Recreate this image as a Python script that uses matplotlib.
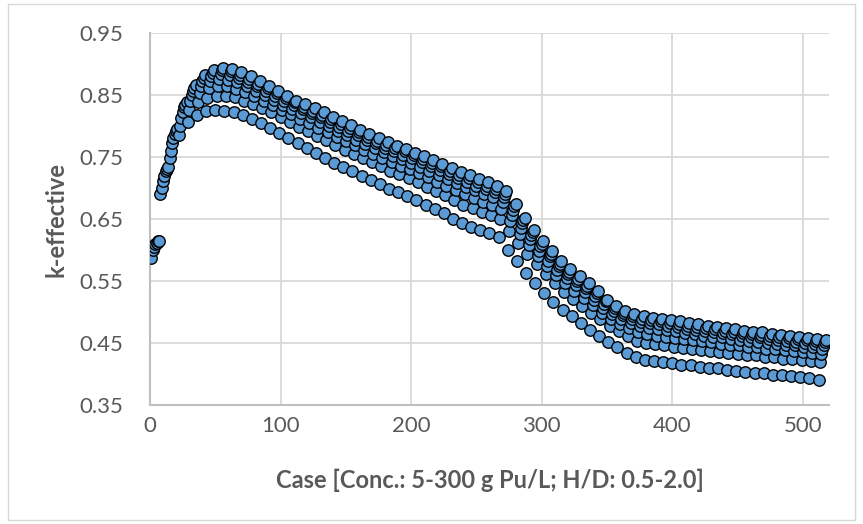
"""
k-effective vs case number scatter (Pu solution, conc. 5-300 g/L, H/D 0.5-2.0)
"""
import matplotlib
matplotlib.use('Agg')
import matplotlib.pyplot as plt
from matplotlib.patches import Rectangle

# 7 H/D values per concentration step, 74 concentration steps -> 518 cases
# each list = one H/D position inside a concentration group
band_1 = [0.587, 0.690, 0.748, 0.786, 0.806, 0.818, 0.824, 0.826, 0.825, 0.822,
          0.817, 0.811, 0.805, 0.797, 0.789, 0.781, 0.773, 0.765, 0.757, 0.749,
          0.741, 0.734, 0.727, 0.720, 0.713, 0.706, 0.699, 0.693, 0.687, 0.680,
          0.673, 0.666, 0.659, 0.650, 0.643, 0.637, 0.632, 0.627, 0.621, 0.600,
          0.582, 0.563, 0.547, 0.531, 0.516, 0.503, 0.493, 0.482, 0.471, 0.461,
          0.452, 0.443, 0.434, 0.427, 0.423, 0.421, 0.419, 0.417, 0.415, 0.414,
          0.412, 0.410, 0.409, 0.407, 0.405, 0.404, 0.402, 0.401, 0.399, 0.398,
          0.396, 0.395, 0.393, 0.391]

band_2 = [0.600, 0.700, 0.760, 0.800, 0.826, 0.838, 0.845, 0.849, 0.849, 0.846,
          0.841, 0.835, 0.829, 0.822, 0.814, 0.807, 0.799, 0.792, 0.784, 0.777,
          0.769, 0.762, 0.755, 0.748, 0.742, 0.735, 0.728, 0.722, 0.716, 0.709,
          0.702, 0.695, 0.688, 0.680, 0.673, 0.667, 0.662, 0.657, 0.650, 0.630,
          0.612, 0.594, 0.577, 0.561, 0.546, 0.533, 0.521, 0.510, 0.499, 0.488,
          0.478, 0.469, 0.461, 0.454, 0.450, 0.448, 0.446, 0.444, 0.442, 0.441,
          0.439, 0.437, 0.436, 0.434, 0.433, 0.431, 0.430, 0.428, 0.427, 0.425,
          0.424, 0.423, 0.421, 0.420]

band_3 = [0.605, 0.712, 0.772, 0.813, 0.840, 0.853, 0.861, 0.865, 0.864, 0.860,
          0.855, 0.848, 0.841, 0.834, 0.826, 0.819, 0.812, 0.805, 0.797, 0.790,
          0.783, 0.776, 0.769, 0.762, 0.755, 0.749, 0.742, 0.736, 0.730, 0.724,
          0.717, 0.710, 0.703, 0.696, 0.690, 0.684, 0.678, 0.673, 0.666, 0.646,
          0.626, 0.608, 0.590, 0.574, 0.559, 0.546, 0.534, 0.523, 0.511, 0.499,
          0.489, 0.481, 0.474, 0.468, 0.464, 0.462, 0.460, 0.458, 0.456, 0.455,
          0.453, 0.451, 0.449, 0.447, 0.446, 0.444, 0.443, 0.441, 0.440, 0.438,
          0.437, 0.435, 0.434, 0.432]

band_4 = [0.609, 0.720, 0.781, 0.823, 0.850, 0.864, 0.873, 0.876, 0.875, 0.871,
          0.864, 0.857, 0.850, 0.842, 0.834, 0.827, 0.821, 0.814, 0.807, 0.800,
          0.792, 0.785, 0.778, 0.771, 0.765, 0.758, 0.752, 0.747, 0.741, 0.734,
          0.728, 0.721, 0.714, 0.708, 0.702, 0.696, 0.690, 0.685, 0.677, 0.657,
          0.636, 0.617, 0.599, 0.583, 0.568, 0.555, 0.543, 0.532, 0.520, 0.507,
          0.497, 0.489, 0.483, 0.477, 0.475, 0.473, 0.471, 0.469, 0.466, 0.464,
          0.462, 0.460, 0.459, 0.457, 0.455, 0.453, 0.452, 0.450, 0.449, 0.447,
          0.446, 0.444, 0.443, 0.441]

band_5 = [0.612, 0.727, 0.787, 0.830, 0.857, 0.872, 0.881, 0.884, 0.883, 0.878,
          0.871, 0.864, 0.856, 0.849, 0.841, 0.834, 0.827, 0.821, 0.814, 0.807,
          0.799, 0.792, 0.785, 0.778, 0.772, 0.765, 0.759, 0.754, 0.748, 0.742,
          0.736, 0.729, 0.722, 0.716, 0.710, 0.704, 0.699, 0.693, 0.685, 0.665,
          0.643, 0.624, 0.606, 0.590, 0.574, 0.561, 0.550, 0.538, 0.526, 0.513,
          0.502, 0.495, 0.489, 0.484, 0.482, 0.480, 0.478, 0.476, 0.473, 0.471,
          0.469, 0.467, 0.466, 0.464, 0.462, 0.460, 0.459, 0.457, 0.455, 0.454,
          0.452, 0.450, 0.449, 0.447]

band_6 = [0.614, 0.731, 0.792, 0.834, 0.862, 0.878, 0.886, 0.890, 0.888, 0.883,
          0.876, 0.868, 0.861, 0.853, 0.845, 0.838, 0.831, 0.825, 0.818, 0.811,
          0.804, 0.797, 0.790, 0.783, 0.776, 0.770, 0.764, 0.759, 0.753, 0.747,
          0.741, 0.735, 0.728, 0.721, 0.716, 0.710, 0.704, 0.698, 0.691, 0.671,
          0.648, 0.629, 0.610, 0.594, 0.578, 0.565, 0.554, 0.542, 0.531, 0.517,
          0.506, 0.499, 0.493, 0.489, 0.487, 0.485, 0.483, 0.481, 0.478, 0.476,
          0.474, 0.472, 0.470, 0.468, 0.466, 0.464, 0.463, 0.461, 0.459, 0.458,
          0.456, 0.455, 0.453, 0.452]

band_7 = [0.615, 0.734, 0.795, 0.838, 0.866, 0.882, 0.891, 0.894, 0.892, 0.887,
          0.880, 0.872, 0.864, 0.856, 0.848, 0.841, 0.835, 0.829, 0.822, 0.815,
          0.808, 0.801, 0.794, 0.787, 0.780, 0.774, 0.768, 0.763, 0.757, 0.751,
          0.745, 0.739, 0.732, 0.726, 0.721, 0.715, 0.709, 0.703, 0.695, 0.675,
          0.652, 0.633, 0.614, 0.598, 0.582, 0.569, 0.558, 0.546, 0.534, 0.520,
          0.509, 0.502, 0.497, 0.493, 0.491, 0.489, 0.487, 0.485, 0.482, 0.480,
          0.478, 0.476, 0.474, 0.472, 0.470, 0.468, 0.467, 0.465, 0.463, 0.462,
          0.460, 0.458, 0.457, 0.455]

x_ticks = [0, 100, 200, 300, 400, 500]
y_ticks = [0.35, 0.45, 0.55, 0.65, 0.75, 0.85, 0.95]

plt.rcParams['font.family'] = ['Lato', 'DejaVu Sans']


def build_series():
    """按 case 顺序展开: 每个浓度 7 个 H/D"""
    bands = [band_1, band_2, band_3, band_4, band_5, band_6, band_7]
    cases, keff = [], []
    for g in range(len(band_1)):
        for h, band in enumerate(bands):
            cases.append(g * len(bands) + h + 1)
            keff.append(band[g])
    return cases, keff


def main():
    cases, keff = build_series()

    fig = plt.figure(figsize=(8.63, 5.24), dpi=100)
    ax = fig.add_axes([0.1738, 0.2271, 0.7868, 0.7099])

    # 外框
    fig.patches.append(Rectangle((0.009, 0.008), 0.982, 0.985, transform=fig.transFigure,
                                 fill=False, edgecolor='#d9d9d9', linewidth=1.0))

    ax.scatter(cases, keff, s=68, color='#5B9BD5', edgecolors='black',
               linewidths=1.0, zorder=3)

    ax.set_xlim(0, 520)
    ax.set_ylim(0.35, 0.95)
    ax.set_xticks(x_ticks)
    ax.set_yticks(y_ticks)
    ax.set_yticklabels([f'{v:.2f}' for v in y_ticks])

    ax.grid(True, color='#d9d9d9', linewidth=1.3, zorder=0)
    ax.set_axisbelow(True)
    for side in ['top', 'right']:
        ax.spines[side].set_visible(False)
    for side in ['left', 'bottom']:
        ax.spines[side].set_color('#bfbfbf')
        ax.spines[side].set_linewidth(1.5)

    ax.tick_params(axis='both', length=0, labelsize=16, labelcolor='#595959')
    ax.tick_params(axis='y', pad=19)
    ax.tick_params(axis='x', pad=8)

    ax.set_xlabel('Case [Conc.: 5-300 g Pu/L; H/D: 0.5-2.0]', fontsize=17,
                  fontweight='bold', color='#595959')
    ax.set_ylabel('k-effective', fontsize=17, fontweight='bold', color='#595959')
    ax.xaxis.set_label_coords(0.5, -0.172)
    ax.yaxis.set_label_coords(-0.121, 0.5)

    fig.savefig('out.png', dpi=100)
    plt.close(fig)


if __name__ == '__main__':
    main()
